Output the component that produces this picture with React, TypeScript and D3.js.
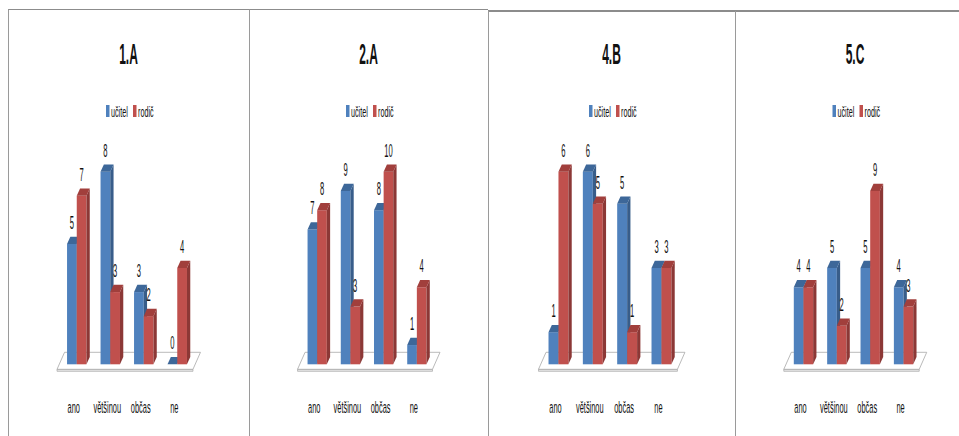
import React from "react";
import * as d3 from "d3";

const categories = ["ano", "většinou", "občas", "ne"];
const classes = ["1.A", "2.A", "4.B", "5.C"];
const seriesNames = ["učitel", "rodič"];
const ucitel = [
  [5, 8, 3, 0],
  [7, 9, 8, 1],
  [1, 6, 5, 3],
  [4, 5, 5, 4],
];
const rodic = [
  [7, 3, 2, 4],
  [8, 3, 10, 4],
  [6, 5, 1, 3],
  [4, 2, 9, 3],
];
const axisMax = [8, 10, 6, 10];

// layout
const W = 959;
const H = 436;
const panelLeft = [8, 249, 488, 735];
const panelWidth = [241, 239, 247, 240];
const panelTop = [9.5, 9.5, 11, 11];
const baseY = 364.3;
const topY = 171.7;
const DX = 3.3;
const DY = 7.3;

const colors = {
  front: ["#4f81bd", "#c0504d"],
  side: ["#385d8a", "#8c3836"],
  top: ["#3d6799", "#a13f3c"],
};

const FONT = "'Liberation Sans', Arial, sans-serif";

function NText({ x, y, size, sx, weight, anchor, children }: any) {
  return (
    <text
      transform={`translate(${x},${y}) scale(${sx},1)`}
      fontFamily={FONT}
      fontSize={size}
      fontWeight={weight || "normal"}
      textAnchor={anchor || "middle"}
      fill="#111"
    >
      {children}
    </text>
  );
}

function Panel({ i }: { i: number }) {
  const L = panelLeft[i];
  const PW = panelWidth[i];
  const cx = L + PW / 2;
  const step = 0.139 * PW;
  const start = L + 0.245 * PW;
  const pad = 0.42;
  const xg = d3
    .scaleBand<string>()
    .domain(categories)
    .range([start, start + step * (categories.length - pad)])
    .paddingInner(pad)
    .paddingOuter(0);
  const xs = d3.scaleBand<string>().domain(seriesNames).range([0, xg.bandwidth()]);
  const y = d3.scaleLinear().domain([0, axisMax[i]]).range([baseY, topY]);
  const series = [ucitel[i], rodic[i]];

  const gStart = xg(categories[0])!;
  const gEnd = xg(categories[categories.length - 1])! + xg.bandwidth();
  const fFront = baseY + 5;
  const fBack = baseY - 12;
  const fl = gStart - 10;
  const fr = gEnd + 6;
  const fsh = 7.5;

  const bars: any[] = [];
  const labels: any[] = [];
  categories.forEach((c, ci) => {
    series.forEach((vals, si) => {
      const v = vals[ci];
      const x0 = xg(c)! + xs(seriesNames[si])!;
      const w = xs.bandwidth();
      const yt = y(v);
      const key = `${ci}-${si}`;
      bars.push(
        <g key={key}>
          {v > 0 && (
            <rect x={x0} y={yt} width={w} height={baseY - yt} fill={colors.front[si]} />
          )}
          {v > 0 && (
            <polygon
              points={`${x0 + w},${yt} ${x0 + w + DX},${yt - DY} ${x0 + w + DX},${baseY - DY} ${x0 + w},${baseY}`}
              fill={colors.side[si]}
            />
          )}
          <polygon
            points={`${x0},${yt} ${x0 + DX},${yt - DY} ${x0 + w + DX},${yt - DY} ${x0 + w},${yt}`}
            fill={colors.top[si]}
          />
        </g>
      );
      labels.push(
        <NText key={"l" + key} x={x0 + w / 2} y={yt - 15} size={19} sx={0.4}>
          {v}
        </NText>
      );
    });
  });

  return (
    <g>
      <line x1={L} y1={panelTop[i]} x2={L + PW} y2={panelTop[i]} stroke="#8c8c8c" strokeWidth={i >= 2 ? 2 : 1} />
      <line x1={L + 0.5} y1={panelTop[i]} x2={L + 0.5} y2={H + 5} stroke="#9a9a9a" strokeWidth={1} />
      <NText x={cx} y={64} size={30} sx={0.4} weight="bold">
        {classes[i]}
      </NText>
      {/* legend */}
      <rect x={cx - 22.5} y={105} width={3.5} height={12} fill={colors.front[0]} />
      <NText x={cx - 17.5} y={116.5} size={15} sx={0.48} anchor="start">
        {seriesNames[0]}
      </NText>
      <rect x={cx + 4.5} y={105} width={3.5} height={12} fill={colors.front[1]} />
      <NText x={cx + 9.5} y={116.5} size={15} sx={0.48} anchor="start">
        {seriesNames[1]}
      </NText>
      {/* floor */}
      <polygon
        points={`${fl},${fFront} ${fr},${fFront} ${fr},${fFront + 2} ${fl},${fFront + 2}`}
        fill="#e6e6e6"
        stroke="#b0b0b0"
        strokeWidth={0.8}
      />
      <polygon
        points={`${fl},${fFront} ${fl + fsh},${fBack} ${fr + fsh},${fBack} ${fr},${fFront}`}
        fill="#ffffff"
        stroke="#a8a8a8"
        strokeWidth={0.8}
      />
      {bars}
      {labels}
      {categories.map((c) => (
        <NText key={c} x={xg(c)! + xg.bandwidth() / 2 - 3} y={413} size={16.5} sx={0.45}>
          {c}
        </NText>
      ))}
    </g>
  );
}

export default function App() {
  return (
    <svg
      width={W}
      height={H}
      style={{ position: "absolute", left: 0, top: 0, background: "#fff" }}
    >
      <rect x={0} y={0} width={W} height={H} fill="#fff" />
      {classes.map((_, i) => (
        <Panel key={i} i={i} />
      ))}
    </svg>
  );
}
